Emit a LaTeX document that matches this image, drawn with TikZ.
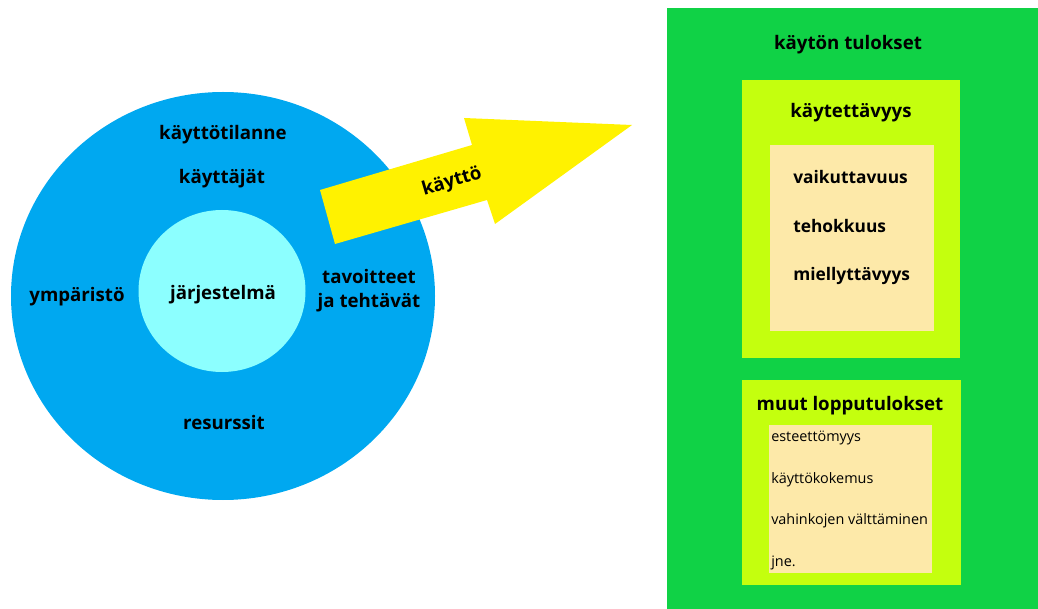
\documentclass[tikz,border=0pt]{standalone}
\usepackage{fontspec}
\setmainfont{Open Sans}
\usepackage{tikz}
\usetikzlibrary{positioning,calc}
\definecolor{outerblue}{RGB}{0,168,240}
\definecolor{innercyan}{RGB}{140,255,255}
\definecolor{resgreen}{RGB}{16,210,70}
\definecolor{limegreen}{RGB}{196,255,14}
\definecolor{beige}{RGB}{253,233,169}
\definecolor{arrowyellow}{RGB}{255,242,0}
\begin{document}
\begin{tikzpicture}[x=0.75pt,y=-0.75pt,
    lbl/.style={font=\fontsize{14}{18}\selectfont\bfseries,inner sep=0pt,align=center},
    item/.style={font=\fontsize{13}{16}\selectfont\bfseries,inner sep=0pt,anchor=west},
    small/.style={font=\fontsize{10.8}{12}\selectfont,inner sep=0pt,anchor=west}]
    \useasboundingbox (0,0) rectangle (1038,609);
    % the use situation
    \fill[outerblue] (223,296) ellipse [x radius=212,y radius=204];
    \fill[innercyan] (222,291) ellipse [x radius=83.5,y radius=81];
    \node[lbl] (tilanne) at (223,135) {käyttötilanne};
    \node[lbl] (kayttajat) at (222,179) {käyttäjät};
    \node[lbl] (ymparisto) at (77,297) {ympäristö};
    \node[lbl] (jarjestelma) at (223,295) {järjestelmä};
    \node[lbl] (tavoitteet) at (369,291) {tavoitteet\\ja tehtävät};
    \node[lbl] (resurssit) at (224,422) {resurssit};
    % the arrow
    \fill[arrowyellow] (320,190) -- (472,145) -- (464,118) -- (632,125)
        -- (495,224) -- (487,200) -- (335,244) -- cycle;
    \node[lbl,rotate=16.5] (kaytto) at (452,182) {käyttö};
    % the outcomes
    \fill[resgreen] (667,8) rectangle (1038,609);
    \node[lbl] (tulokset) at (848,45) {käytön tulokset};
    \fill[limegreen] (742,80) rectangle (960,358);
    \node[lbl] (kaytettavyys) at (851,113) {käytettävyys};
    \fill[beige] (770,145) rectangle (934,331);
    \node[item] (vaikuttavuus) at (793,177) {vaikuttavuus};
    \node[item] (tehokkuus) at (793,226) {tehokkuus};
    \node[item] (miellyttavyys) at (793,276) {miellyttävyys};
    \fill[limegreen] (742,380) rectangle (961,585);
    \node[lbl] (muut) at (850,406) {muut lopputulokset};
    \fill[beige] (769,425) rectangle (932,573);
    \node[small] (esteettomyys) at (771,438) {esteettömyys};
    \node[small] (kokemus) at (771,480) {käyttökokemus};
    \node[small] (vahingot) at (771,521) {vahinkojen välttäminen};
    \node[small] (jne) at (771,563) {jne.};
\end{tikzpicture}
\end{document}
